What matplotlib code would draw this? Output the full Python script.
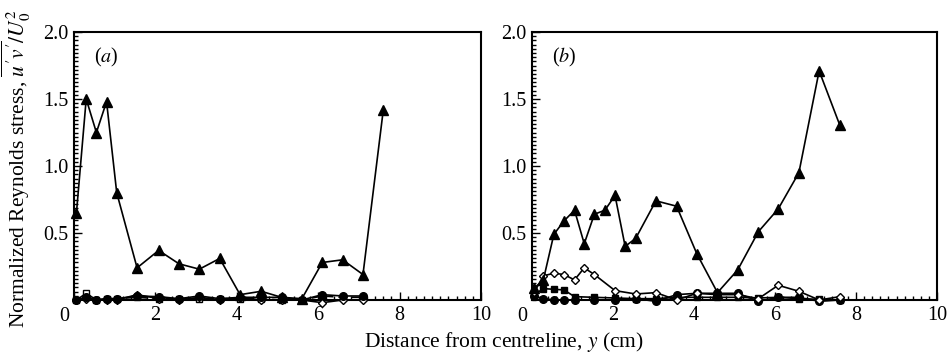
import matplotlib
matplotlib.use("Agg")
import matplotlib.pyplot as plt
from matplotlib.ticker import MultipleLocator, FixedLocator, FixedFormatter

plt.rcParams['font.family'] = ['Liberation Serif', 'DejaVu Serif']
plt.rcParams['mathtext.fontset'] = 'stix'

# ---------------- Panel (a) ----------------
x_a = [0.06, 0.30, 0.55, 0.80, 1.05, 1.55, 2.08, 2.58, 3.08, 3.58, 4.08, 4.60, 5.10, 5.60, 6.10, 6.60, 7.10, 7.60]
tri_a = [0.65, 1.50, 1.25, 1.48, 0.80, 0.24, 0.37, 0.27, 0.23, 0.31, 0.04, 0.065, 0.02, 0.01, 0.28, 0.30, 0.19, 1.42]

x_a_low = [0.06, 0.30, 0.55, 0.80, 1.05, 1.55, 2.08, 2.58, 3.08, 3.58, 4.08, 4.60, 5.10, 5.60, 6.10, 6.60, 7.10]
circ_a = [0.00, 0.02, 0.00, 0.01, 0.01, 0.03, 0.025, 0.01, 0.03, 0.01, 0.02, 0.02, 0.02, 0.00, 0.04, 0.03, 0.03]
sq_a = [0.00, 0.05, 0.00, 0.01, 0.01, 0.02, 0.01, 0.01, 0.01, 0.01, 0.01, 0.01, 0.00, 0.00, 0.03, 0.02, 0.02]
dia_a = [0.00, 0.01, 0.00, 0.00, 0.00, 0.04, 0.01, 0.00, 0.02, 0.00, 0.02, 0.00, 0.00, 0.00, -0.02, 0.00, 0.00]

# ---------------- Panel (b) ----------------
x_b = [0.06, 0.28, 0.54, 0.79, 1.05, 1.29, 1.54, 1.80, 2.05, 2.30, 2.56, 3.06, 3.57, 4.07, 4.58, 5.08, 5.59, 6.08, 6.59, 7.09, 7.60]
tri_b = [0.09, 0.15, 0.49, 0.59, 0.67, 0.42, 0.64, 0.67, 0.78, 0.40, 0.46, 0.74, 0.70, 0.345, 0.055, 0.225, 0.51, 0.68, 0.95, 1.71, 1.305]

x_b_dia = [0.06, 0.28, 0.54, 0.79, 1.05, 1.29, 1.54, 2.05, 2.56, 3.06, 3.57, 4.07, 4.58, 5.08, 5.59, 6.08, 6.59, 7.09, 7.60]
dia_b = [0.06, 0.18, 0.20, 0.19, 0.15, 0.24, 0.19, 0.07, 0.045, 0.055, 0.00, 0.05, 0.04, 0.04, 0.01, 0.11, 0.065, 0.00, 0.025]

x_b_low = [0.06, 0.28, 0.54, 0.79, 1.05, 1.54, 2.05, 2.56, 3.06, 3.57, 4.07, 4.58, 5.08, 5.59, 6.08, 6.59, 7.09, 7.60]
sq_b = [0.04, 0.085, 0.08, 0.075, 0.025, 0.02, 0.015, 0.01, 0.01, 0.02, 0.02, 0.02, 0.02, 0.015, 0.02, 0.01, 0.005, 0.00]
circ_b = [0.03, 0.01, 0.00, 0.00, 0.00, 0.00, 0.00, 0.01, -0.01, 0.04, 0.05, 0.05, 0.05, -0.01, 0.02, 0.02, -0.01, 0.00]

x_ticks = [0, 2, 4, 6, 8, 10]
x_ticklabels = ['', '2', '4', '6', '8', '10']
y_ticks = [0.5, 1.0, 1.5, 2.0]
y_ticklabels = ['0.5', '1.0', '1.5', '2.0']

fig = plt.figure(figsize=(9.48, 3.55), dpi=100)
ax_a = fig.add_axes([74/948, 55/355, 407/948, 268/355])
ax_b = fig.add_axes([532/948, 55/355, 405/948, 268/355])

lw = 1.2
ms = 5.5

def style(ax, label):
    ax.set_xlim(0, 10)
    ax.set_ylim(0, 2.0)
    ax.xaxis.set_major_locator(FixedLocator(x_ticks))
    ax.xaxis.set_major_formatter(FixedFormatter(x_ticklabels))
    ax.yaxis.set_major_locator(FixedLocator(y_ticks))
    ax.yaxis.set_major_formatter(FixedFormatter(y_ticklabels))
    ax.xaxis.set_minor_locator(MultipleLocator(0.2))
    ax.yaxis.set_minor_locator(MultipleLocator(0.03125))
    ax.tick_params(which='both', direction='in', top=False, right=False,
                   labelsize=14.5, width=1.0, colors='black')
    ax.tick_params(which='major', length=6, pad=4)
    ax.tick_params(which='minor', length=3)
    for sp in ax.spines.values():
        sp.set_linewidth(1.5)
    ax.annotate('0', xy=(0, 0), xycoords=('data', 'axes fraction'),
                xytext=(-7, -5), textcoords='offset points',
                ha='center', va='top', fontsize=14.5)
    ax.text(0.08, 0.905, label, transform=ax.transAxes, fontsize=14.5,
            ha='center', va='center')

# panel a
ax_a.plot(x_a_low, sq_a, color='black', lw=lw, ls=(0, (5, 3)), marker='s', ms=ms - 1,
          mfc='white', mec='black', clip_on=False, zorder=3)
ax_a.plot(x_a_low, dia_a, color='black', lw=lw, marker='D', ms=ms - 1.5,
          mfc='white', mec='black', clip_on=False, zorder=3)
ax_a.plot(x_a_low, circ_a, color='black', lw=lw, marker='o', ms=ms,
          mfc='black', mec='black', clip_on=False, zorder=3)
ax_a.plot(x_a, tri_a, color='black', lw=lw, marker='^', ms=ms + 1,
          mfc='black', mec='black', clip_on=False, zorder=4)
style(ax_a, r'($a$)')

# panel b
ax_b.plot(x_b_low, sq_b, color='black', lw=lw, marker='s', ms=ms - 1,
          mfc='black', mec='black', clip_on=False, zorder=3)
ax_b.plot(x_b_low, circ_b, color='black', lw=lw, marker='o', ms=ms,
          mfc='black', mec='black', clip_on=False, zorder=3)
ax_b.plot(x_b_dia, dia_b, color='black', lw=lw, marker='D', ms=ms - 1,
          mfc='white', mec='black', clip_on=False, zorder=3)
ax_b.plot(x_b, tri_b, color='black', lw=lw, marker='^', ms=ms + 1,
          mfc='black', mec='black', clip_on=False, zorder=4)
style(ax_b, r'($b$)')

fig.text(16/948, 1 - 168/355, r"Normalized Reynolds stress, $\overline{u'v'}/U_0^2$",
         rotation=90, ha='center', va='center', fontsize=15.5)
fig.text(504/948, 1 - 342/355, r"Distance from centreline, $y$ (cm)",
         ha='center', va='center', fontsize=15.5)

fig.savefig('out.png', dpi=100)
